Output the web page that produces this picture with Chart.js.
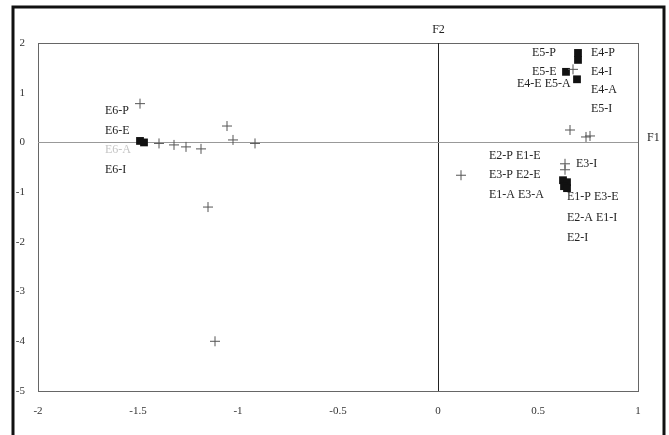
<!DOCTYPE html>
<html lang="en">
<head>
    <meta charset="UTF-8">
    <title>F1 / F2 map</title>
    <script src="https://cdn.jsdelivr.net/npm/chart.js"></script>
    <style>
        body { margin: 0; background: #fff; }
        .wrap { width: 669px; height: 435px; position: relative; }
    </style>
</head>
<body>
<div class="wrap"><canvas id="plot"></canvas></div>
<script>
// crosses (+)
const crossF1 = [-1.49, -1.055, -1.395, -1.32, -1.26, -1.185, -1.025, -0.915, -1.15, -1.115,
                 0.115, 0.675, 0.66, 0.74, 0.76, 0.635, 0.635];
const crossF2 = [0.78, 0.33, -0.02, -0.05, -0.09, -0.13, 0.05, -0.02, -1.30, -4.0,
                 -0.66, 1.47, 0.25, 0.11, 0.13, -0.43, -0.55];

// filled squares
const squareF1 = [-1.49, -1.47, 0.70, 0.70, 0.64, 0.695, 0.625, 0.645, 0.63, 0.645];
const squareF2 = [0.03, 0.0, 1.80, 1.66, 1.42, 1.27, -0.76, -0.80, -0.88, -0.92];

// point names
const labelText = ['E6-P', 'E6-E', 'E6-A', 'E6-I', 'E5-P', 'E4-P', 'E5-E', 'E4-I', 'E4-E E5-A',
                   'E4-A', 'E5-I', 'E2-P E1-E', 'E3-P E2-E', 'E1-A E3-A', 'E3-I', 'E1-P E3-E',
                   'E2-A E1-I', 'E2-I'];
const labelF1 = [-1.665, -1.665, -1.665, -1.665, 0.47, 0.765, 0.47, 0.765, 0.395,
                 0.765, 0.765, 0.255, 0.255, 0.255, 0.69, 0.645, 0.645, 0.645];
const labelF2 = [0.63, 0.23, -0.14, -0.56, 1.81, 1.81, 1.42, 1.42, 1.18,
                 1.05, 0.68, -0.26, -0.645, -1.05, -0.44, -1.10, -1.52, -1.91];
const fadedLabels = ['E6-A'];

const SERIF = '"Liberation Serif", "DejaVu Serif", serif';

const toPoints = (xs, ys) => xs.map((v, i) => ({ x: v, y: ys[i] }));

const decor = {
    id: 'decor',
    beforeDraw(chart) {
        const { ctx, chartArea: a, scales: { x, y } } = chart;
        ctx.save();
        ctx.fillStyle = '#fff';
        ctx.fillRect(0, 0, chart.width, chart.height);
        // outer scan border
        ctx.strokeStyle = '#111';
        ctx.lineWidth = 3;
        ctx.beginPath();
        ctx.moveTo(13, 440); ctx.lineTo(13, 7); ctx.lineTo(664, 7); ctx.lineTo(664, 440);
        ctx.stroke();
        // plot frame
        ctx.strokeStyle = '#666';
        ctx.lineWidth = 1;
        ctx.strokeRect(a.left + 0.5, a.top + 0.5, a.width, a.height);
        const x0 = Math.round(x.getPixelForValue(0)) + 0.5;
        const y0 = Math.round(y.getPixelForValue(0)) + 0.5;
        ctx.strokeStyle = '#222';
        ctx.beginPath(); ctx.moveTo(x0, a.top); ctx.lineTo(x0, a.bottom); ctx.stroke();
        ctx.strokeStyle = '#999';
        ctx.beginPath(); ctx.moveTo(a.left, y0); ctx.lineTo(a.right, y0); ctx.stroke();
        // axis names
        ctx.font = '12px ' + SERIF;
        ctx.fillStyle = '#222';
        ctx.textBaseline = 'middle';
        ctx.textAlign = 'center';
        ctx.fillText('F2', x0, a.top - 13);
        ctx.textAlign = 'left';
        ctx.fillText('F1', a.right + 9, y0 - 5);
        ctx.restore();
    },
    afterDatasetsDraw(chart) {
        const { ctx, scales: { x, y } } = chart;
        ctx.save();
        ctx.font = '12px ' + SERIF;
        ctx.textAlign = 'left';
        ctx.textBaseline = 'middle';
        labelText.forEach((t, i) => {
            ctx.fillStyle = fadedLabels.includes(t) ? '#c4c4c4' : '#222';
            ctx.fillText(t, x.getPixelForValue(labelF1[i]), y.getPixelForValue(labelF2[i]));
        });
        ctx.restore();
    }
};

new Chart(document.getElementById('plot'), {
    type: 'scatter',
    data: {
        datasets: [
            {
                label: 'cross',
                data: toPoints(crossF1, crossF2),
                pointStyle: 'cross',
                pointRadius: 5,
                borderColor: '#555',
                borderWidth: 1
            },
            {
                label: 'square',
                data: toPoints(squareF1, squareF2),
                pointStyle: 'rect',
                pointRadius: 5.5,
                backgroundColor: '#111',
                borderColor: '#111',
                borderWidth: 0
            }
        ]
    },
    options: {
        responsive: true,
        maintainAspectRatio: false,
        animation: false,
        layout: { padding: { left: 8, right: 31, top: 43, bottom: 0 } },
        plugins: {
            legend: { display: false },
            tooltip: { enabled: false }
        },
        scales: {
            x: {
                type: 'linear',
                min: -2,
                max: 1,
                afterFit: s => { s.height = 44; },
                grid: { display: false, drawTicks: false },
                border: { display: false },
                ticks: {
                    stepSize: 0.5,
                    padding: 14,
                    color: '#333',
                    font: { family: SERIF, size: 11 },
                    maxRotation: 0,
                    callback: v => String(v)
                }
            },
            y: {
                type: 'linear',
                min: -5,
                max: 2,
                afterFit: s => { s.width = 30; },
                grid: { display: false, drawTicks: false },
                border: { display: false },
                ticks: {
                    stepSize: 1,
                    padding: 13,
                    color: '#333',
                    font: { family: SERIF, size: 11 },
                    callback: v => String(v)
                }
            }
        }
    },
    plugins: [decor]
});
</script>
</body>
</html>
